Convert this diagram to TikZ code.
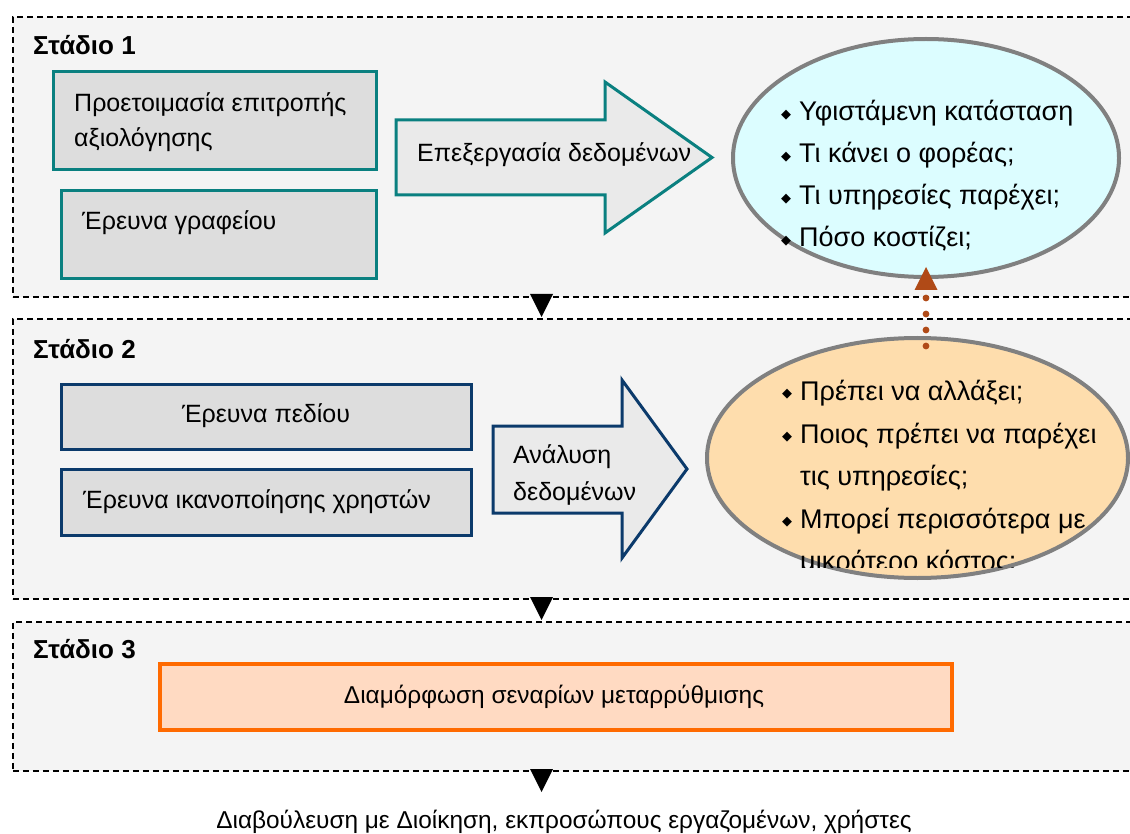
\documentclass[tikz,border=0pt]{standalone}
\usepackage{fontspec}
\setmainfont{Liberation Sans}
\newfontfamily\symf{DejaVu Sans}
\usetikzlibrary{shapes.geometric,calc}

\definecolor{tealline}{HTML}{0A8080}
\definecolor{navyline}{HTML}{0B3A6B}
\definecolor{boxfill}{HTML}{DDDDDD}
\definecolor{arrowfill}{HTML}{EAEAEA}
\definecolor{stagefill}{HTML}{F4F4F4}
\definecolor{cyanfill}{HTML}{DCFDFF}
\definecolor{peachfill}{HTML}{FEDDAD}
\definecolor{rimgray}{HTML}{808080}
\definecolor{orangeline}{HTML}{FF6A00}
\definecolor{orangefill}{HTML}{FFDAC2}
\definecolor{rust}{HTML}{B04A17}

% diamond bullet with a fixed indent
\newcommand\bul{\makebox[18pt][l]{\raisebox{2.5pt}{\symf\fontsize{13}{13}\selectfont ◆}}}

\begin{document}
\begin{tikzpicture}[x=1pt,y=-1pt,
  stageframe/.style={rectangle, draw=black, dash pattern=on 6pt off 4pt,
    line width=1.6pt, fill=stagefill, inner sep=0, anchor=north west},
  tealbox/.style={rectangle, draw=tealline, line width=3pt, fill=boxfill,
    inner sep=0, anchor=north west},
  navybox/.style={rectangle, draw=navyline, line width=3pt, fill=boxfill,
    inner sep=0, anchor=north west},
  orangebox/.style={rectangle, draw=orangeline, line width=3.5pt, fill=orangefill,
    inner sep=0, anchor=north west},
  bubble/.style={ellipse, draw=rimgray, line width=4pt, inner sep=0},
  txt/.style={font=\fontsize{25}{35}\selectfont, inner sep=0, anchor=base west},
  ctxt/.style={font=\fontsize{25}{35}\selectfont, inner sep=0, anchor=base},
  wtxt/.style={font=\fontsize{24.4}{35}\selectfont, inner sep=0, anchor=base},
  btxt/.style={font=\fontsize{27}{42}\selectfont, inner sep=0, anchor=base west},
  stagelabel/.style={font=\bfseries\fontsize{26}{30}\selectfont, inner sep=0, anchor=base west},
  stepdown/.style={fill=black},
  linkdot/.style={fill=rust}
]
\clip (0,0) rectangle (1130,834);
\fill[white] (0,0) rectangle (1130,834);

% stage frames (open to the right)
\node[stageframe, minimum width=1140pt, minimum height=280pt] (s1) at (12,16) {};
\node[stageframe, minimum width=1140pt, minimum height=280pt] (s2) at (12,318) {};
\node[stageframe, minimum width=1140pt, minimum height=149pt] (s3) at (12,621) {};

\node[stagelabel] (l1) at (33,55) {Στάδιο 1};
\node[stagelabel] (l2) at (33,359) {Στάδιο 2};
\node[stagelabel] (l3) at (33,658) {Στάδιο 3};

% stage 1
\node[tealbox, minimum width=323pt, minimum height=98pt] (b1) at (52,70) {};
\node[txt] (b1a) at (74,112) {Προετοιμασία επιτροπής};
\node[txt] (b1b) at (74,147) {αξιολόγησης};
\node[tealbox, minimum width=315pt, minimum height=88pt] (b2) at (60,189) {};
\node[txt] (b2a) at (82,230) {Έρευνα γραφείου};

\draw[tealline, line width=3pt, fill=arrowfill, line join=miter]
  (396,120) -- (605,120) -- (605,82) -- (712,157.5) -- (605,233) -- (605,195) -- (396,195) -- cycle;
\node[txt] (a1) at (417,162) {Επεξεργασία δεδομένων};

\node[bubble, fill=cyanfill, minimum width=386pt, minimum height=238pt] (e1) at (926,158) {};
\node[btxt] (e1a) at (781,121) {\bul Υφιστάμενη κατάσταση};
\node[btxt] (e1b) at (781,163) {\bul Τι κάνει ο φορέας;};
\node[btxt] (e1c) at (781,205) {\bul Τι υπηρεσίες παρέχει;};
\node[btxt] (e1d) at (781,247) {\bul Πόσο κοστίζει;};

% stage 2
\node[navybox, minimum width=410pt, minimum height=65pt] (b3) at (60,383) {};
\node[ctxt] (b3a) at (266,422) {Έρευνα πεδίου};
\node[navybox, minimum width=410pt, minimum height=66pt] (b4) at (60,468) {};
\node[txt] (b4a) at (83,508) {Έρευνα ικανοποίησης χρηστών};

\draw[navyline, line width=3pt, fill=arrowfill, line join=miter]
  (493,426) -- (622,426) -- (622,380) -- (687,469) -- (622,558) -- (622,513) -- (493,513) -- cycle;
\node[txt] (a2a) at (513,463) {Ανάλυση};
\node[txt] (a2b) at (513,500) {δεδομένων};

\node[bubble, fill=peachfill, minimum width=421pt, minimum height=240pt] (e2) at (917.5,458) {};
\begin{scope}
  \clip (700,330) rectangle (1130,567);
  \node[btxt] (e2a) at (782,400) {\bul Πρέπει να αλλάξει;};
  \node[btxt] (e2b) at (782,443) {\bul Ποιος πρέπει να παρέχει};
  \node[btxt] (e2c) at (782,485) {\hspace*{18pt}τις υπηρεσίες;};
  \node[btxt] (e2d) at (782,528) {\bul Μπορεί περισσότερα με};
  \node[btxt] (e2e) at (782,570) {\hspace*{18pt}μικρότερο κόστος;};
\end{scope}

% dotted link from the second bubble up to the first
\coordinate (linkstart) at ($(e2.north -| e1.south)+(0,10)$);
\foreach \k in {0,1,2,3}
  \fill[linkdot] ($(linkstart)+(0,-16*\k)$) circle (3.4);
\fill[linkdot] ($(e1.south)+(-11.5,11)$) -- ($(e1.south)+(11.5,11)$) -- ($(e1.south)+(0,-12)$) -- cycle;

% stage 3
\node[orangebox, minimum width=792pt, minimum height=66pt] (b5) at (158,662) {};
\node[wtxt] (b5a) at (554,703) {Διαμόρφωση σεναρίων μεταρρύθμισης};

% down markers between stages
\coordinate (d1) at (541.5,294);
\coordinate (d2) at (541.5,597);
\coordinate (d3) at (541.5,769);
\foreach \d in {d1,d2,d3}
  \fill[stepdown] ($(\d)+(-11.5,0)$) -- ($(\d)+(11.5,0)$) -- ($(\d)+(0,23)$) -- cycle;

\node[wtxt] (out) at (564,828) {Διαβούλευση με Διοίκηση, εκπροσώπους εργαζομένων, χρήστες};
\end{tikzpicture}
\end{document}
